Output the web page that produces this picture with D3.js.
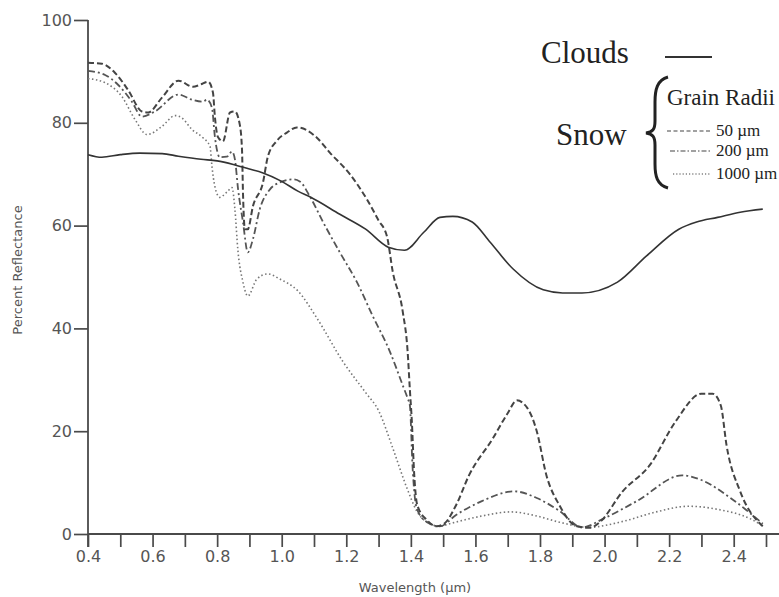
<!DOCTYPE html>
<html>
<head>
<meta charset="utf-8">
<script src="https://cdn.jsdelivr.net/npm/d3@7"></script>
<style>
  html, body { margin: 0; padding: 0; background: #fff; }
  svg { display: block; }
</style>
</head>
<body>
<svg id="chart" width="779" height="597"></svg>
<script>
// ---- Data (wavelength in µm, percent reflectance) ----
const cloudWave = [0.40,0.443,0.50,0.56,0.63,0.68,0.75,0.80,0.85,0.90,0.94,1.00,1.05,1.09,1.18,1.26,1.33,1.38,1.44,1.49,1.53,1.59,1.645,1.716,1.81,1.87,1.93,2.04,2.13,2.23,2.285,2.35,2.42,2.49];
const cloudVals = [73.8,73.3,73.8,74.1,74.0,73.5,72.9,72.6,71.9,71.0,70.3,68.6,66.7,65.5,62.2,59.3,55.8,55.2,58.7,61.6,61.8,60.7,56.8,51.6,47.5,46.9,46.9,49.0,54.1,59.3,60.7,61.6,62.6,63.2];

const snow50Wave = [0.40,0.443,0.484,0.524,0.567,0.586,0.629,0.68,0.725,0.747,0.772,0.787,0.793,0.802,0.818,0.84,0.855,0.87,0.877,0.88,0.886,0.895,0.911,0.942,0.957,0.985,1.016,1.047,1.109,1.149,1.211,1.264,1.30,1.326,1.344,1.375,1.39,1.397,1.403,1.41,1.42,1.45,1.48,1.505,1.54,1.58,1.654,1.70,1.728,1.762,1.79,1.82,1.86,1.914,1.954,1.985,2.056,2.14,2.22,2.30,2.335,2.36,2.378,2.42,2.49];
const snow50Vals = [91.7,91.5,89.7,86.4,82.2,82.0,84.9,88.2,87.0,87.4,88.0,85.9,81.2,77.3,76.4,82.0,82.2,79.7,74.8,66.5,59.3,59.3,63.8,68.4,73.4,76.5,78.1,79.1,77.1,74.2,70.0,65.1,61.0,57.9,51.0,43.2,35.5,28.0,22.0,12.0,5.6,2.7,1.5,2.1,5.6,11.4,18.6,23.5,26.0,24.4,20.0,11.4,5.6,1.5,1.2,2.3,8.3,13.4,21.9,27.3,27.3,25.0,17.2,8.3,1.5];

const snow200Wave = [0.40,0.453,0.493,0.536,0.567,0.607,0.68,0.722,0.756,0.768,0.784,0.793,0.808,0.83,0.846,0.855,0.865,0.88,0.895,0.911,0.932,0.963,0.994,1.035,1.056,1.087,1.128,1.18,1.233,1.282,1.335,1.375,1.39,1.397,1.405,1.418,1.45,1.49,1.54,1.62,1.72,1.79,1.86,1.93,2.0,2.1,2.24,2.30,2.39,2.49];
const snow200Vals = [90.1,89.3,87.4,84.1,81.2,82.2,85.5,84.5,84.1,84.5,82.9,77.3,73.3,73.4,74.4,72.9,67.0,60.7,54.8,57.4,63.2,67.0,68.4,69.0,68.6,65.7,60.7,54.8,49.0,42.4,35.5,28.9,26.4,25.0,13.4,5.0,2.3,1.5,3.7,6.4,8.3,7.0,4.5,1.3,3.1,6.4,11.4,10.5,7.0,2.0];

const snow1000Wave = [0.40,0.453,0.505,0.546,0.583,0.629,0.67,0.69,0.722,0.756,0.778,0.784,0.793,0.808,0.83,0.846,0.855,0.864,0.88,0.895,0.923,0.957,0.994,1.05,1.109,1.19,1.26,1.30,1.344,1.388,1.418,1.46,1.49,1.52,1.62,1.71,1.79,1.86,1.95,2.06,2.16,2.26,2.35,2.45,2.49];
const snow1000Vals = [88.6,87.8,85.1,80.6,77.7,79.3,81.4,81.0,78.7,77.1,75.4,71.5,67.6,65.5,66.5,67.4,63.2,55.4,49.0,46.3,49.6,50.6,49.6,47.3,42.0,33.5,27.5,24.0,16.7,8.9,4.5,2.0,1.5,2.0,3.5,4.3,3.5,2.3,1.3,2.5,4.3,5.4,4.8,3.0,1.6];

const xTickValues = [0.4,0.5,0.6,0.7,0.8,0.9,1.0,1.1,1.2,1.3,1.4,1.5,1.6,1.7,1.8,1.9,2.0,2.1,2.2,2.3,2.4,2.5];
const xLabelValues = [0.4,0.6,0.8,1.0,1.2,1.4,1.6,1.8,2.0,2.2,2.4];
const yTickValues = [0,20,40,60,80,100];
const legendLabels = ["50 µm","200 µm","1000 µm"];

// ---- Chart ----
const svg = d3.select("#chart");
const x = d3.scaleLinear().domain([0.4, 2.5]).range([88, 766]);
const y = d3.scaleLinear().domain([0, 100]).range([534, 20]);

const axisColor = "#4a4a4a";
const labelColor = "#555";
const tickFont = "DejaVu Sans, Verdana, sans-serif";

// X axis
const xAxis = d3.axisBottom(x)
  .tickValues(xTickValues)
  .tickSize(13)
  .tickPadding(4)
  .tickFormat(d => xLabelValues.some(v => Math.abs(v - d) < 1e-6) ? d3.format(".1f")(d) : "");
const gx = svg.append("g").attr("transform", `translate(0,${y(0)})`).call(xAxis);
gx.select(".domain").remove();
gx.selectAll(".tick line").attr("stroke", axisColor).attr("stroke-width", 1.7);
gx.selectAll(".tick text").attr("fill", labelColor).attr("font-size", 16).attr("font-family", tickFont);
svg.append("line").attr("x1", x(0.4)).attr("x2", 779).attr("y1", y(0)).attr("y2", y(0))
  .attr("stroke", axisColor).attr("stroke-width", 1.8);

// Y axis
const yAxis = d3.axisLeft(y).tickValues(yTickValues).tickSize(14).tickPadding(2).tickFormat(d3.format("d"));
const gy = svg.append("g").attr("transform", `translate(${x(0.4)},0)`).call(yAxis);
gy.select(".domain").remove();
gy.selectAll(".tick line").attr("stroke", axisColor).attr("stroke-width", 1.7);
gy.selectAll(".tick text").attr("fill", labelColor).attr("font-size", 16).attr("font-family", tickFont);
svg.append("line").attr("x1", x(0.4)).attr("x2", x(0.4)).attr("y1", y(100)).attr("y2", y(0) + 13)
  .attr("stroke", axisColor).attr("stroke-width", 1.8);

// Axis titles
svg.append("text").attr("x", 415).attr("y", 592).attr("text-anchor", "middle")
  .attr("font-family", tickFont).attr("font-size", 13).attr("fill", labelColor)
  .text("Wavelength (µm)");
svg.append("text").attr("transform", `translate(22,${270}) rotate(-90)`).attr("text-anchor", "middle")
  .attr("font-family", tickFont).attr("font-size", 13).attr("fill", labelColor)
  .text("Percent Reflectance");

// Lines
const line = d3.line().x(d => x(d[0])).y(d => y(d[1])).curve(d3.curveMonotoneX);
const zip = (a, b) => a.map((v, i) => [v, b[i]]);

const series = [
  { data: zip(snow1000Wave, snow1000Vals), stroke: "#777", width: 1.6, dash: "1.5,2.5" },
  { data: zip(snow200Wave, snow200Vals), stroke: "#555", width: 1.8, dash: "7,3,2,3" },
  { data: zip(snow50Wave, snow50Vals), stroke: "#444", width: 2.0, dash: "6,3" },
  { data: zip(cloudWave, cloudVals), stroke: "#333", width: 1.6, dash: null }
];
series.forEach(s => {
  svg.append("path").attr("d", line(s.data)).attr("fill", "none")
    .attr("stroke", s.stroke).attr("stroke-width", s.width)
    .attr("stroke-dasharray", s.dash);
});

// Legend
const serif = "Liberation Serif, Times New Roman, serif";
svg.append("text").attr("x", 541).attr("y", 63).attr("font-family", serif).attr("font-size", 31).attr("fill", "#222").text("Clouds");
svg.append("line").attr("x1", 665).attr("x2", 712).attr("y1", 57).attr("y2", 57).attr("stroke", "#333").attr("stroke-width", 2);
svg.append("text").attr("x", 556).attr("y", 145).attr("font-family", serif).attr("font-size", 31).attr("fill", "#222").text("Snow");
// Brace
svg.append("path")
  .attr("d", "M668,77 C657,80 655,90 655,102 L655,121 C655,129 653,132 646,133 C653,134 655,137 655,145 L655,164 C655,176 657,185 668,188")
  .attr("fill", "none").attr("stroke", "#222").attr("stroke-width", 3);
svg.append("text").attr("x", 667).attr("y", 105).attr("font-family", serif).attr("font-size", 23).attr("fill", "#222").text("Grain Radii");

const legDash = ["4,2.5", "5,2,1.5,2", "1.2,2"];
const legY = [131, 151, 174];
legendLabels.forEach((lab, i) => {
  svg.append("line").attr("x1", 667 + i * 3).attr("x2", 710).attr("y1", legY[i]).attr("y2", legY[i])
    .attr("stroke", "#444").attr("stroke-width", 1.2).attr("stroke-dasharray", legDash[i]);
  svg.append("text").attr("x", 716).attr("y", legY[i] + 5).attr("font-family", serif).attr("font-size", 17).attr("fill", "#222").text(lab);
});
</script>
</body>
</html>
